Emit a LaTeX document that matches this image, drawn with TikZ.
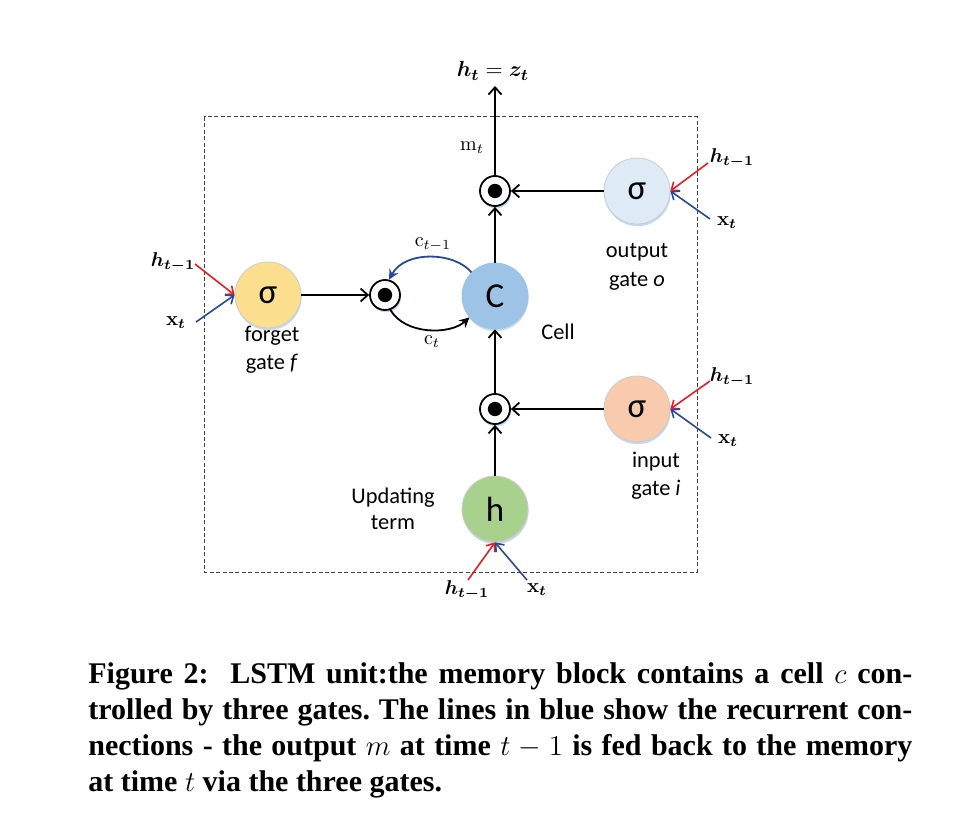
\documentclass[tikz,border=0pt]{standalone}
\usepackage{amsmath}
\usepackage{bm}
\usepackage[no-math]{fontspec}
\setmainfont{Liberation Serif}
\newfontfamily\carlito{Carlito}
\usetikzlibrary{arrows.meta,shadows}
\definecolor{fyellow}{RGB}{251,223,142}
\definecolor{cblue}{RGB}{157,195,230}
\definecolor{oblue}{RGB}{222,235,247}
\definecolor{isalmon}{RGB}{248,203,173}
\definecolor{hgreen}{RGB}{169,209,142}
\definecolor{shadowblue}{RGB}{196,218,240}
\definecolor{redline}{RGB}{236,28,36}
\definecolor{blueline}{RGB}{40,72,160}
\newcommand{\hprev}{$\bm{h}_{\bm{t-1}}$}
\newcommand{\xcur}{$\mathbf{x}_{\bm{t}}$}
\begin{document}
\begin{tikzpicture}[x=0.5pt,y=0.5pt,
  gate/.style={circle, minimum size=33pt, inner sep=0pt, draw=black!20, line width=0.4pt,
    font=\carlito\fontsize{17.5}{17.5}\selectfont,
    general shadow={fill=shadowblue, shadow yshift=-1.1pt, shadow xshift=0.3pt}},
  mult/.style={circle, minimum size=15pt, inner sep=0pt, draw=black, line width=0.9pt, fill=white,
    general shadow={fill=shadowblue, shadow yshift=-1.2pt, shadow xshift=0.5pt},
    path picture={\fill[black] (path picture bounding box.center) circle (3.6pt);}},
  lbl/.style={font=\carlito\fontsize{11.2}{13}\selectfont, inner sep=0pt, anchor=base},
  mlbl/.style={inner sep=0pt, font=\fontsize{10}{12}\selectfont},
  flow/.style={line width=0.9pt, -{Straight Barb[length=3.6pt,width=6.5pt]}},
  hin/.style={line width=0.8pt, draw=redline, -{Straight Barb[length=3.4pt,width=5.5pt]}},
  xin/.style={line width=0.8pt, draw=blueline, -{Straight Barb[length=3.4pt,width=5.5pt]}},
  cline/.style={line width=0.9pt, -{Stealth[length=5pt,width=5pt]}},
  captext/.style={inner sep=0pt, anchor=base west, font=\bfseries\fontsize{15}{18}\selectfont}
]
\useasboundingbox[fill=white] (0,0) rectangle (960,-840);

% memory block
\draw[line width=0.5pt, black!75, dash pattern=on 2pt off 1.2pt] (204,-117) rectangle (697,-572);

% nodes
\node[gate, fill=oblue] (og) at (637,-191) {σ};
\node[gate, fill=fyellow] (fg) at (268,-295) {σ};
\node[gate, fill=cblue, draw=cblue] (C) at (495,-296) {C};
\node[gate, fill=isalmon] (ig) at (637,-409) {σ};
\node[gate, fill=hgreen] (h) at (495,-509) {h};
\node[mult] (om) at (495,-191) {};
\node[mult] (fm) at (385,-295) {};
\node[mult] (im) at (495,-409) {};
\coordinate (topend) at (495,-86);

% labels
\node[mlbl, font=\fontsize{11}{13}\selectfont] (ht) at (493,-71) {$\bm{h}_{\bm{t}} = \bm{z}_{\bm{t}}$};
\node[mlbl] (mt) at (472,-148) {$\mathrm{m}_t$};
\node[mlbl] (ctm) at (433,-245) {$\mathrm{c}_{t-1}$};
\node[mlbl] (ct) at (432,-342) {$\mathrm{c}_t$};
\node[lbl] (out1) at (637,-257) {output};
\node[lbl] (out2) at (637,-286) {gate \textit{o}};
\node[lbl] (fo1) at (272,-342) {forget};
\node[lbl] (fo2) at (272,-369) {gate \textit{f}};
\node[lbl] (cell) at (558,-340) {Cell};
\node[lbl] (in1) at (656,-467) {input};
\node[lbl] (in2) at (656,-495) {gate \textit{i}};
\node[lbl] (up1) at (393,-503) {Updating};
\node[lbl] (up2) at (393,-529) {term};

% input labels
\node[mlbl] (hog) at (732,-158) {\hprev};
\node[mlbl] (xog) at (727,-223) {\xcur};
\node[mlbl] (hfg) at (173,-262) {\hprev};
\node[mlbl] (xfg) at (176,-323) {\xcur};
\node[mlbl] (hig) at (732,-377) {\hprev};
\node[mlbl] (xig) at (728,-441) {\xcur};
\node[mlbl] (hh) at (467,-590) {\hprev};
\node[mlbl] (xh) at (537,-590) {\xcur};

\coordinate (rog) at (708,-163);
\coordinate (bog) at (710,-219);
\coordinate (rfg) at (195,-264);
\coordinate (bfg) at (196,-322);
\coordinate (rig) at (710,-381);
\coordinate (big) at (711,-438);
\coordinate (rh) at (468,-580);
\coordinate (bh) at (527,-580);

% connectors
\draw[flow] (og) -- (om);
\draw[flow] (C) -- (om);
\draw[flow] (om) -- (topend);
\draw[flow] (fg) -- (fm);
\draw[flow] (im) -- (C);
\draw[flow] (ig) -- (im);
\draw[flow] (h) -- (im);
\draw[cline, blueline] (C.135) .. controls (455,-252) and (405,-250) .. (fm.75);
\draw[cline, black] (fm.-70) .. controls (405,-335) and (450,-335) .. (C.220);

\draw[hin] (rog) -- (og.east);
\draw[xin] (bog) -- (og.east);
\draw[hin] (rfg) -- (fg.west);
\draw[xin] (bfg) -- (fg.west);
\draw[hin] (rig) -- (ig.east);
\draw[xin] (big) -- (ig.east);
\draw[hin] (rh) -- (h.south);
\draw[xin] (bh) -- (h.south);

% caption
\node[captext] (cap1) at (88,-683) {\makebox[412pt][s]{Figure 2:\ \ LSTM unit:the memory block contains a cell $c$ con-}};
\node[captext] (cap2) at (88,-719) {\makebox[412pt][s]{trolled by three gates.\ The lines in blue show the recurrent con-}};
\node[captext] (cap3) at (88,-755) {\makebox[412pt][s]{nections - the output $m$ at time $t-1$ is fed back to the memory}};
\node[captext] (cap4) at (88,-791) {at time $t$ via the three gates.};
\end{tikzpicture}
\end{document}
